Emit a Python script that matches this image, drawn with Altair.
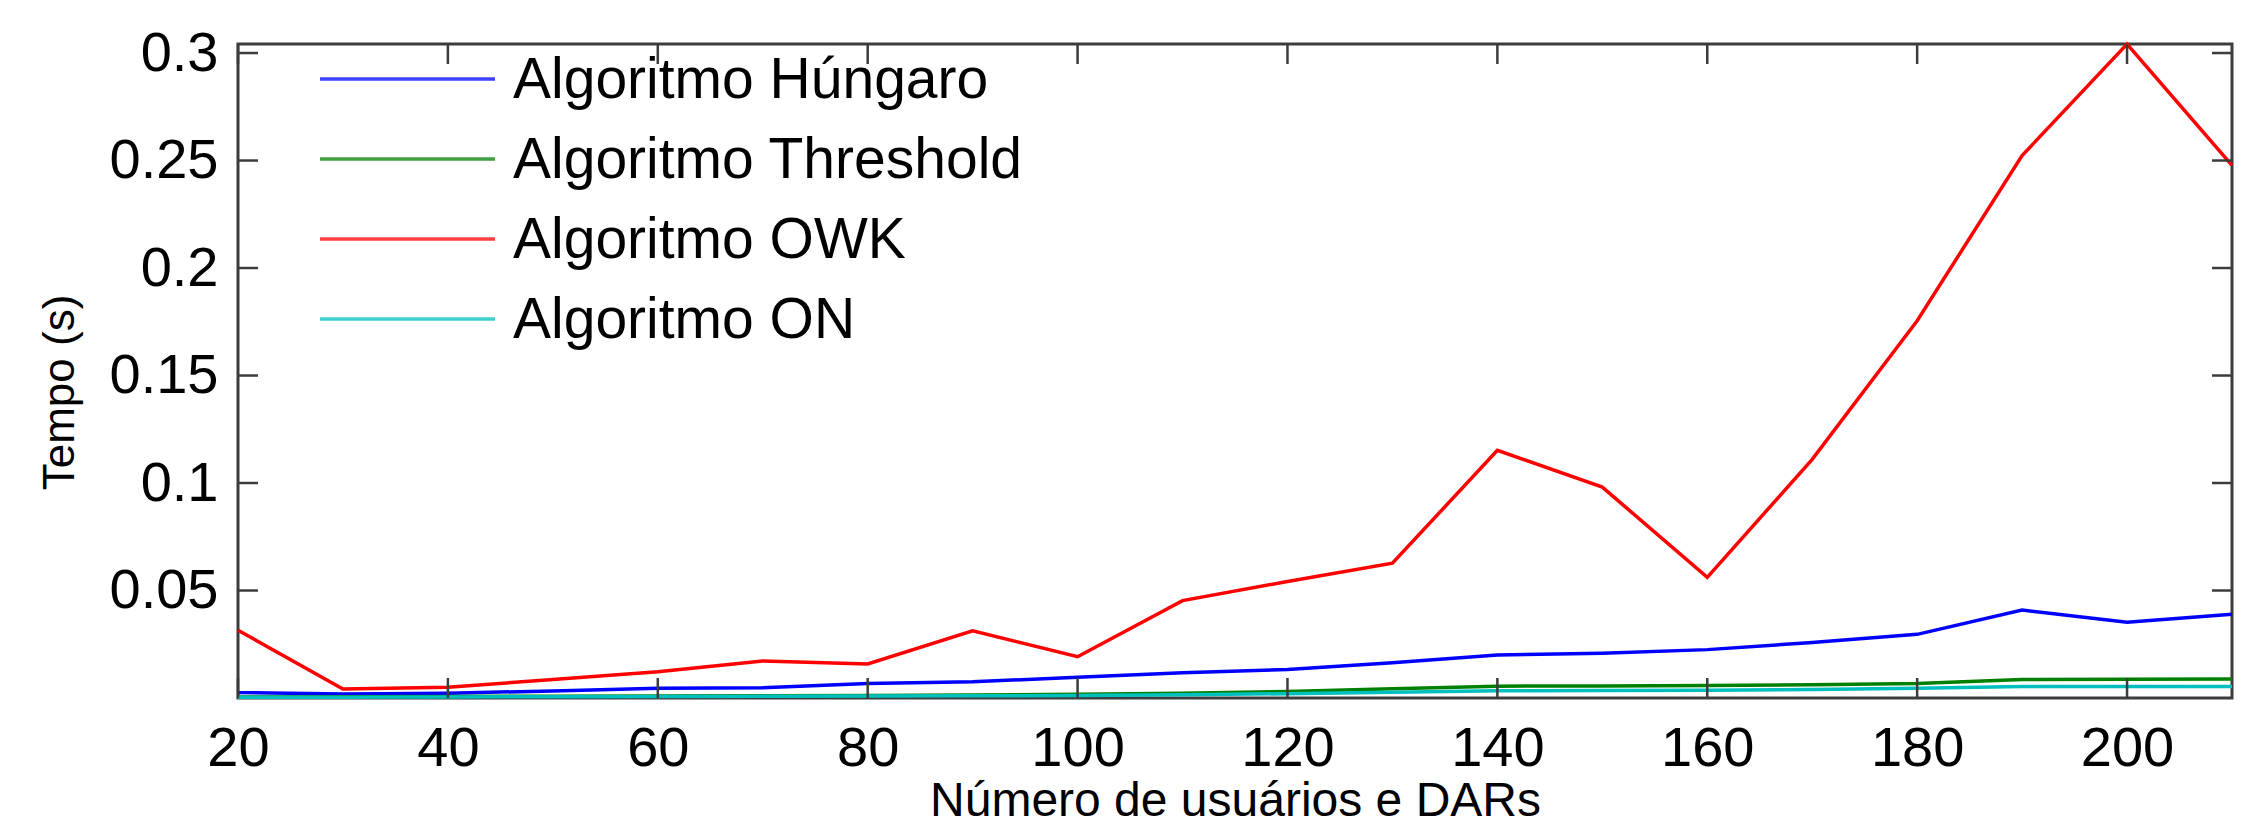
import altair as alt
import pandas as pd

# ---- data ----
n_users = [20, 30, 40, 50, 60, 70, 80, 90, 100, 110, 120, 130, 140, 150, 160, 170, 180, 190, 200, 210]

hungaro = [0.0025, 0.0019, 0.0022, 0.0033, 0.0045, 0.0048, 0.0068, 0.0076, 0.0096, 0.0117,
           0.0133, 0.0164, 0.0200, 0.0208, 0.0225, 0.0258, 0.0296, 0.0409, 0.0352, 0.0389]
threshold = [0.0005, 0.0006, 0.0007, 0.0008, 0.0009, 0.0011, 0.0012, 0.0014, 0.0017, 0.0022,
             0.0030, 0.0043, 0.0055, 0.0056, 0.0058, 0.0062, 0.0068, 0.0086, 0.0087, 0.0088]
owk = [0.0315, 0.0042, 0.0050, 0.0086, 0.0122, 0.0172, 0.0158, 0.0313, 0.0192, 0.0453,
       0.0542, 0.0627, 0.1152, 0.0981, 0.0561, 0.1110, 0.1755, 0.2523, 0.3042, 0.2477]
on_alg = [0.0003, 0.0004, 0.0005, 0.0006, 0.0007, 0.0008, 0.0009, 0.0010, 0.0012, 0.0015,
          0.0020, 0.0027, 0.0034, 0.0035, 0.0036, 0.0040, 0.0045, 0.0053, 0.0053, 0.0053]

series_names = ["Algoritmo Húngaro", "Algoritmo Threshold", "Algoritmo OWK", "Algoritmo ON"]
series_values = [hungaro, threshold, owk, on_alg]
series_colors = ["#0000ff", "#008000", "#ff0000", "#00bfbf"]

x_ticks = [20, 40, 60, 80, 100, 120, 140, 160, 180, 200]
y_ticks = [0.05, 0.1, 0.15, 0.2, 0.25, 0.3]
x_domain = [20, 210]
y_domain = [0, 0.3042]

x_title = "Número de usuários e DARs"
y_title = "Tempo (s)"

# ---- layout ----
W, H = 1994, 654
FONT = "Liberation Sans"
TICK_LEN = 20
AXIS_COLOR = "#3c3c3c"

xenc = alt.X(
    "n:Q",
    scale=alt.Scale(domain=x_domain, nice=False, zero=False),
    axis=alt.Axis(
        values=x_ticks, format="d", title=x_title, grid=False, domain=False,
        ticks=False, tickSize=0, labelPadding=23, labelFlush=False, labelOverlap=False,
        labelFont=FONT, labelFontSize=56, labelColor="black",
        titleFont=FONT, titleFontSize=48, titleFontWeight="normal", titleColor="black",
        titleX=W / 2, titleY=117, titleBaseline="alphabetic", titleAlign="center",
    ),
)
yenc = alt.Y(
    "t:Q",
    scale=alt.Scale(domain=y_domain, nice=False, zero=False),
    axis=alt.Axis(
        values=y_ticks, format="~g", title=y_title, grid=False, domain=False,
        ticks=False, tickSize=0, labelPadding=20, labelOverlap=False,
        labelFont=FONT, labelFontSize=56, labelColor="black",
        titleFont=FONT, titleFontSize=44, titleFontWeight="normal", titleColor="black",
        titleX=-178, titleY=348, titleAngle=270, titleBaseline="middle", titleAlign="center",
    ),
)

layers = []
for name, vals, col in zip(series_names, series_values, series_colors):
    df = pd.DataFrame({"n": n_users, "t": vals, "s": name})
    layers.append(
        alt.Chart(df).mark_line(color=col, strokeWidth=3.5).encode(x=xenc, y=yenc)
    )

# inward ticks on all four sides
xt = pd.DataFrame({"n": x_ticks})
yt = pd.DataFrame({"t": y_ticks})
tick_style = dict(color=AXIS_COLOR, strokeWidth=2.5)
layers.append(alt.Chart(xt).mark_rule(**tick_style).encode(
    x=xenc, y=alt.value(H), y2=alt.value(H - TICK_LEN)))
layers.append(alt.Chart(xt).mark_rule(**tick_style).encode(
    x=xenc, y=alt.value(0), y2=alt.value(TICK_LEN)))
layers.append(alt.Chart(yt).mark_rule(**tick_style).encode(
    y=yenc, x=alt.value(0), x2=alt.value(TICK_LEN)))
layers.append(alt.Chart(yt).mark_rule(**tick_style).encode(
    y=yenc, x=alt.value(W - TICK_LEN), x2=alt.value(W)))

# legend (drawn manually, Matlab style, no box)
for i, (name, col) in enumerate(zip(series_names, series_colors)):
    ldf = pd.DataFrame({"s": [name]})
    yy = 35 + 80 * i
    layers.append(alt.Chart(ldf).mark_rule(color=col, strokeWidth=3.5, opacity=0.75).encode(
        x=alt.value(82), x2=alt.value(257), y=alt.value(yy)))
    layers.append(alt.Chart(ldf).mark_text(
        align="left", baseline="middle", font=FONT, fontSize=57, color="black"
    ).encode(x=alt.value(275), y=alt.value(yy + 2), text="s:N"))

chart = alt.layer(*layers).properties(
    width=W,
    height=H,
    autosize=alt.AutoSizeParams(type="none"),
    padding={"left": 230, "top": 36, "right": 10, "bottom": 127},
    background="white",
).configure_view(stroke=AXIS_COLOR, strokeWidth=3)

chart.save("out.html", embed_options={"renderer": "svg", "actions": False})
